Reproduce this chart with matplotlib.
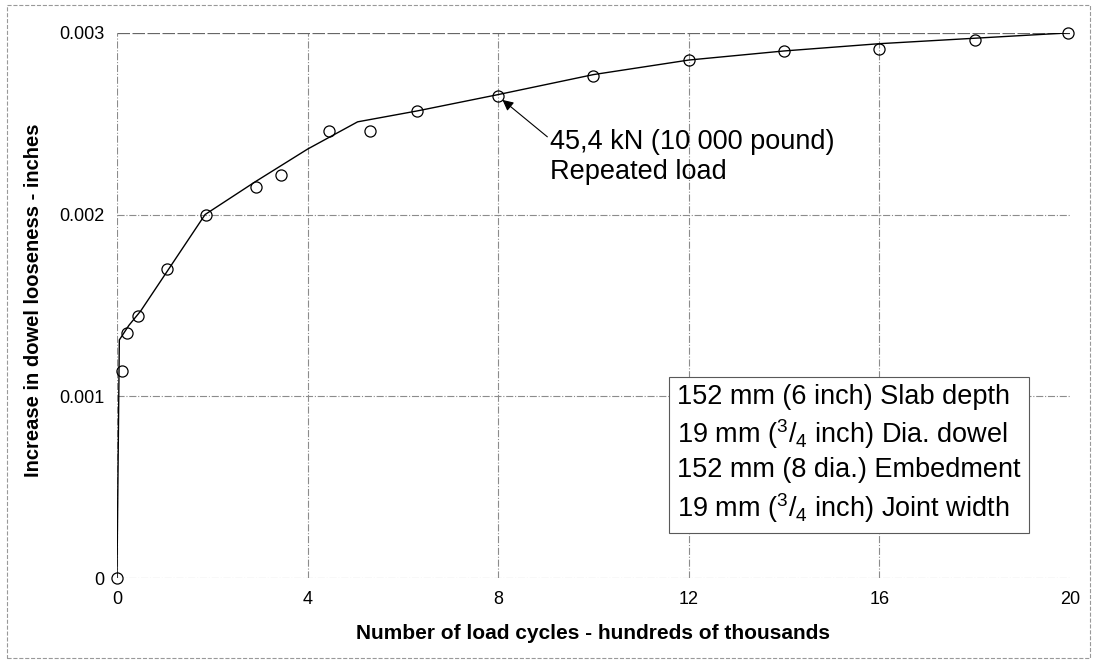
import matplotlib

matplotlib.use("Agg")
import matplotlib.pyplot as plt
from matplotlib.patches import Rectangle

plt.rcParams["font.family"] = ["Liberation Sans", "DejaVu Sans"]
plt.rcParams["mathtext.default"] = "regular"

# measured points (hundreds of thousands of cycles, inches)
cycles = [0, 0.1, 0.22, 0.45, 1.05, 1.86, 2.92, 3.44, 4.45, 5.3, 6.3, 8,
          10, 12, 14, 16, 18, 19.95]
looseness = [0, 0.00114, 0.00135, 0.00144, 0.0017, 0.0020, 0.00215, 0.00222,
             0.00246, 0.00246, 0.00257, 0.00265, 0.00276, 0.00285, 0.00290,
             0.00291, 0.00296, 0.0030]

# fitted curve drawn through the points
fit_x = [0, 0.05, 0.25, 0.5, 1.85, 2.9, 4.0, 5.05, 6.3, 8, 10, 12, 14, 16,
         18, 20]
fit_y = [0, 0.00131, 0.00139, 0.00147, 0.0020, 0.00218, 0.00236, 0.00251,
         0.00257, 0.00266, 0.00277, 0.00285, 0.00290, 0.00294, 0.00297,
         0.0030]

x_ticks = [0, 4, 8, 12, 16, 20]
y_ticks = [0, 0.001, 0.002, 0.003]
y_labels = ["0", "0.001", "0.002", "0.003"]

notes = ["152 mm (6 inch) Slab depth",
         "19 mm ($^3$/$_4$ inch) Dia. dowel",
         "152 mm (8 dia.) Embedment",
         "19 mm ($^3$/$_4$ inch) Joint width"]

fig = plt.figure(figsize=(10.93, 6.69), dpi=100)
ax = fig.add_axes([0.107, 0.136, 0.872, 0.815])

for xv in x_ticks[:-1]:
    ax.axvline(xv, color="0.55", lw=0.8, ls="-.", zorder=0)
for yv in y_ticks[:-1]:
    ax.axhline(yv, color="0.55", lw=0.8, ls="-.", zorder=0)
ax.axhline(y_ticks[-1], color="0.4", lw=0.9, ls=(0, (10, 2)), zorder=0)

ax.plot(fit_x, fit_y, color="black", lw=1.0, zorder=2)
ax.plot(cycles, looseness, "o", ms=8, mfc="none", mec="black", mew=0.9,
        clip_on=False, zorder=3)

ax.set_xlim(0, 20)
ax.set_ylim(0, 0.003)
ax.set_xticks(x_ticks)
ax.set_yticks(y_ticks)
ax.set_yticklabels(y_labels)
ax.tick_params(length=0, labelsize=13, pad=9)
for s in ax.spines.values():
    s.set_visible(False)

ax.set_xlabel("Number of load cycles - hundreds of thousands",
              fontsize=15, fontweight="bold", labelpad=12)
ax.set_ylabel("Increase in dowel looseness - inches",
              fontsize=14.5, fontweight="bold", labelpad=12)
ax.yaxis.label.set_y(0.51)

ax.annotate("45,4 kN (10 000 pound)\nRepeated load",
            xy=(cycles[11], looseness[11]), xytext=(9.09, 0.00247),
            fontsize=19.5, va="top", ha="left", linespacing=1.18,
            arrowprops=dict(arrowstyle="-|>", color="black", lw=0.8,
                            mutation_scale=16, shrinkA=0, shrinkB=4,
                            relpos=(0, 0.82)))

ax.text(11.75, 0.00107, "\n".join(notes), fontsize=19.5, va="top",
        ha="left", linespacing=1.3,
        bbox=dict(boxstyle="square,pad=0.3", fc="white", ec="0.35", lw=0.8))

fig.patches.append(Rectangle((0.0064, 0.0164), 0.991, 0.976,
                             transform=fig.transFigure, fill=False,
                             ec="0.6", lw=0.8, ls="--"))

fig.savefig("out.png", dpi=100)
